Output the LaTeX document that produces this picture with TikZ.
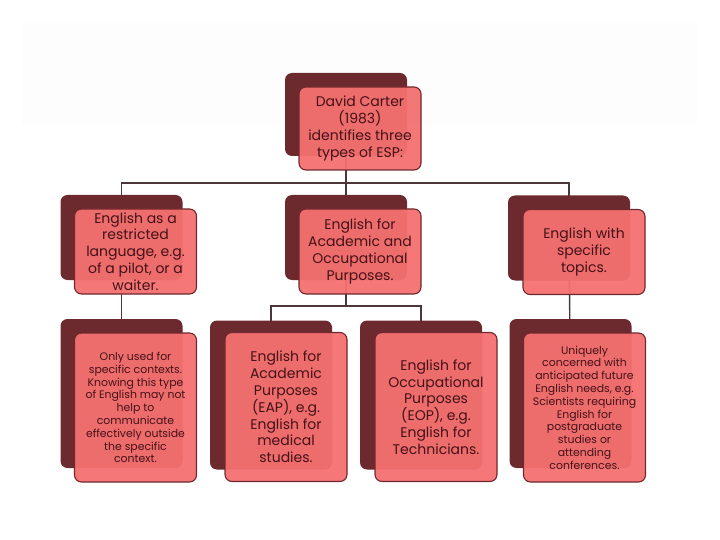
\documentclass[tikz,border=0pt]{standalone}
\usepackage{fontspec}
\setmainfont{Poppins}
\usetikzlibrary{backgrounds}
\definecolor{darkbox}{RGB}{108,42,46}
\definecolor{frontfill}{RGB}{244,112,112}
\definecolor{edgec}{RGB}{112,40,46}
\definecolor{txtc}{RGB}{68,18,24}
\definecolor{linec}{RGB}{75,55,58}
\definecolor{bgpanel}{RGB}{253,253,253}
\tikzset{
  backbox/.style={fill=darkbox, rounded corners=7pt, minimum width=122pt, inner sep=0pt},
  frontbox/.style={fill=frontfill, fill opacity=0.95, text opacity=1, draw=edgec, line width=1.1pt, rounded corners=7pt, minimum width=122pt, inner sep=2pt, align=center, text=txtc},
  conn/.style={draw=linec, line width=1.4pt},
  big/.style={font=\fontsize{14}{16.8}\selectfont},
  small/.style={font=\fontsize{10.9}{12.8}\selectfont}
}
\begin{document}
\begin{tikzpicture}[x=1pt,y=-1pt]
\useasboundingbox (0,0) rectangle (720,540);
\fill[bgpanel] (22,22) rectangle (697,125);
% back boxes
\node[backbox, minimum height=83pt] (b0) at (346,114.5) {};
\node[backbox, minimum height=85pt] (b1) at (121.5,237.5) {};
\node[backbox, minimum height=85pt] (b2) at (346,237.5) {};
\node[backbox, minimum height=85pt] (b3) at (569,238) {};
\node[backbox, minimum height=149pt] (b4) at (121.5,393.5) {};
\node[backbox, minimum height=149pt] (b5) at (271,395) {};
\node[backbox, minimum height=149pt] (b6) at (421,395) {};
\node[backbox, minimum height=149pt] (b7) at (570.5,393.5) {};
% front boxes
\node[frontbox, big, minimum height=83pt] (f0) at (360,128.5) {David Carter\\(1983)\\identifies three\\types of ESP:};
\node[frontbox, big, minimum height=85pt] (f1) at (135.5,251.5) {English as a\\restricted\\language, e.g.\\of a pilot, or a\\waiter.};
\node[frontbox, big, minimum height=85pt] (f2) at (360,251.5) {English for\\Academic and\\Occupational\\Purposes.};
\node[frontbox, big, minimum height=85pt] (f3) at (584,252) {English with\\specific\\topics.};
\node[frontbox, small, minimum height=149pt] (f4) at (135.5,407.5) {Only used for\\specific contexts.\\Knowing this type\\of English may not\\help to\\communicate\\effectively outside\\the specific\\context.};
\node[frontbox, big, minimum height=149pt] (f5) at (286,407) {English for\\Academic\\Purposes\\(EAP), e.g.\\English for\\medical\\studies.};
\node[frontbox, big, minimum height=149pt] (f6) at (436,407) {English for\\Occupational\\Purposes\\(EOP), e.g.\\English for\\Technicians.};
\node[frontbox, small, minimum height=149pt] (f7) at (584.5,407.5) {Uniquely\\concerned with\\anticipated future\\English needs, e.g.\\Scientists requiring\\English for\\postgraduate\\studies or\\attending\\conferences.};
% connectors
\begin{pgfonlayer}{background}
\draw[conn] (b0.center) -- (b0.center |- 0,183) -| (b1.center);
\draw[conn] (b0.center) -- (b2.center);
\draw[conn] (b0.center |- 0,183) -| (b3.center);
\draw[conn] (b1.center) -- (b4.center);
\draw[conn] (b2.center) -- (b2.center |- 0,306) -| (b5.center);
\draw[conn] (b2.center |- 0,306) -| (b6.center);
\draw[conn] (b3.center) -- (b7.center);
\end{pgfonlayer}
\end{tikzpicture}
\end{document}
